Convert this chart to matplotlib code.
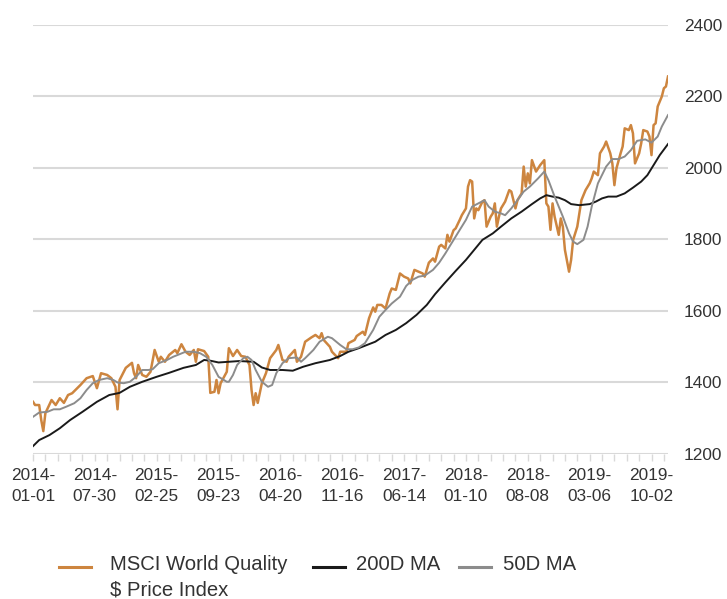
import numpy as np
import matplotlib
matplotlib.use("Agg")
import matplotlib.pyplot as plt
from matplotlib.lines import Line2D

START = "2014-01-01"

price_week = [0, 1, 3, 4, 5, 6, 9, 11, 13, 15, 17, 19, 23, 26, 29, 31, 33, 36, 38, 40,
              41, 42, 45, 48, 49, 50, 51, 53, 55, 57, 59, 61, 62, 64, 66, 69, 70, 72, 74, 76,
              78, 79, 80, 83, 85, 86, 88, 89, 90, 91, 94, 95, 97, 99, 101, 103, 105, 106, 107, 108,
              109, 111, 113, 115, 118, 119, 121, 123, 124, 127, 128, 130, 132, 135, 137, 139, 140, 141, 144, 145,
              148, 149, 152, 153, 156, 157, 160, 161, 163, 165, 166, 167, 169, 171, 173, 174, 176, 177, 178, 180,
              182, 183, 185, 187, 189, 190, 192, 194, 195, 197, 198, 200, 201, 202, 204, 205, 207, 208, 210, 211,
              212, 213, 214, 215, 216, 218, 219, 220, 222, 223, 224, 225, 226, 227, 229, 231, 232, 234, 235, 237,
              238, 239, 240, 241, 242, 244, 246, 248, 249, 250, 251, 252, 253, 255, 256, 257, 258, 260, 261, 262,
              264, 266, 268, 270, 271, 272, 274, 275, 277, 278, 280, 281, 282, 283, 285, 286, 287, 289, 290, 291,
              292, 294, 295, 296, 298, 299, 300, 301, 302, 303, 305, 306, 307, 308]
price_value = [1346, 1337, 1337, 1295, 1264, 1314, 1351, 1337, 1356, 1343, 1365, 1370, 1393, 1412, 1418, 1384, 1426, 1421, 1412, 1388,
               1325, 1407, 1441, 1455, 1426, 1412, 1449, 1421, 1416, 1430, 1491, 1458, 1472, 1458, 1477, 1491, 1482, 1507, 1486, 1477,
               1491, 1458, 1493, 1488, 1472, 1371, 1374, 1407, 1370, 1398, 1430, 1496, 1474, 1491, 1474, 1472, 1449, 1379, 1337, 1370,
               1343, 1398, 1426, 1468, 1491, 1505, 1463, 1458, 1472, 1491, 1458, 1472, 1514, 1526, 1533, 1524, 1538, 1519, 1500, 1486,
               1468, 1486, 1486, 1510, 1519, 1530, 1542, 1533, 1580, 1610, 1598, 1617, 1617, 1607, 1649, 1663, 1659, 1682, 1705, 1696,
               1691, 1677, 1715, 1710, 1705, 1696, 1735, 1747, 1738, 1780, 1785, 1775, 1813, 1794, 1826, 1831, 1855, 1868, 1887, 1948,
               1966, 1962, 1859, 1887, 1882, 1906, 1910, 1836, 1864, 1873, 1901, 1836, 1864, 1887, 1906, 1938, 1934, 1887, 1910, 1929,
               2004, 1948, 1985, 1957, 2022, 1990, 2008, 2022, 1901, 1892, 1827, 1901, 1864, 1813, 1859, 1836, 1771, 1710, 1743, 1799,
               1836, 1910, 1938, 1957, 1971, 1990, 1980, 2041, 2060, 2074, 2041, 2013, 1952, 1999, 2041, 2060, 2111, 2106, 2120, 2097,
               2013, 2041, 2069, 2106, 2102, 2088, 2036, 2120, 2125, 2172, 2200, 2223, 2228, 2256]

ma200_week = [0, 3, 8, 13, 18, 24, 31, 37, 42, 47, 53, 60, 66, 73, 79, 83, 86, 90, 95, 100,
              107, 111, 115, 121, 126, 131, 137, 144, 149, 153, 158, 166, 171, 176, 181, 186, 191, 195, 200, 205,
              210, 214, 218, 223, 227, 232, 237, 242, 246, 249, 252, 255, 258, 261, 265, 270, 273, 276, 279, 283,
              287, 291, 295, 298, 301, 304, 308]
ma200_value = [1222, 1239, 1253, 1272, 1295, 1318, 1346, 1365, 1371, 1388, 1402, 1416, 1427, 1441, 1449, 1463, 1461, 1456, 1458, 1460,
               1458, 1442, 1435, 1435, 1433, 1444, 1454, 1463, 1474, 1486, 1496, 1514, 1533, 1547, 1566, 1589, 1617, 1647, 1680, 1712,
               1743, 1771, 1799, 1817, 1836, 1859, 1878, 1899, 1915, 1924, 1920, 1917, 1910, 1899, 1896, 1899, 1906, 1915, 1920, 1920,
               1929, 1945, 1962, 1980, 2008, 2036, 2067]

ma50_week = [0, 3, 7, 10, 13, 16, 20, 23, 26, 29, 32, 36, 39, 41, 44, 47, 50, 53, 56, 58,
             61, 65, 68, 71, 74, 78, 81, 84, 87, 90, 94, 95, 97, 99, 102, 104, 106, 108, 111, 114,
             116, 118, 121, 124, 128, 130, 132, 136, 139, 143, 145, 149, 152, 155, 158, 161, 165, 168, 171, 174,
             178, 181, 184, 187, 190, 194, 197, 200, 202, 207, 210, 213, 216, 219, 221, 224, 227, 229, 232, 235,
             238, 241, 245, 248, 250, 253, 257, 260, 262, 264, 267, 269, 271, 274, 278, 281, 284, 287, 290, 293,
             297, 300, 303, 305, 308]
ma50_value = [1304, 1316, 1318, 1325, 1325, 1332, 1342, 1356, 1379, 1398, 1407, 1412, 1407, 1400, 1398, 1402, 1416, 1435, 1435, 1437,
              1454, 1463, 1472, 1479, 1486, 1486, 1482, 1472, 1449, 1416, 1402, 1402, 1421, 1449, 1468, 1472, 1463, 1435, 1402, 1388,
              1393, 1426, 1454, 1468, 1470, 1458, 1468, 1491, 1514, 1528, 1524, 1505, 1493, 1493, 1498, 1510, 1547, 1584, 1603, 1621,
              1640, 1670, 1687, 1696, 1699, 1715, 1735, 1761, 1780, 1827, 1855, 1892, 1901, 1910, 1892, 1878, 1873, 1868, 1887, 1910,
              1934, 1948, 1971, 1990, 1966, 1920, 1864, 1817, 1794, 1787, 1799, 1836, 1892, 1957, 2004, 2025, 2025, 2032, 2050, 2076,
              2080, 2071, 2088, 2116, 2148]

tick_labels = ["2014-01-01", "2014-07-30", "2015-02-25", "2015-09-23", "2016-04-20", "2016-11-16",
               "2017-06-14", "2018-01-10", "2018-08-08", "2019-03-06", "2019-10-02"]
y_ticks = [1200, 1400, 1600, 1800, 2000, 2200, 2400]

series_names = ["MSCI World Quality\n$ Price Index", "200D MA", "50D MA"]
colors = ["#CD853F", "#1a1a1a", "#8c8c8c"]

def to_dates(weeks):
    return np.datetime64(START) + np.array(weeks) * np.timedelta64(7, "D")

plt.rcParams["font.family"] = ["Liberation Sans", "DejaVu Sans"]
W, H = 727, 599
fig = plt.figure(figsize=(W / 100, H / 100), dpi=100)
ax = fig.add_axes([33 / W, 1 - 454 / H, 635 / W, 429 / H])

ax.plot(to_dates(price_week), price_value, color=colors[0], lw=1.8, zorder=3)
ax.plot(to_dates(ma200_week), ma200_value, color=colors[1], lw=1.4, zorder=4)
ax.plot(to_dates(ma50_week), ma50_value, color=colors[2], lw=1.4, zorder=5)

start = np.datetime64(START)
end = to_dates([price_week[-1]])[0]
ax.set_xlim(start, end)
ax.set_ylim(1200, 2400)

for s in ax.spines.values():
    s.set_visible(False)

ax.yaxis.tick_right()
ax.set_yticks(y_ticks)
ax.set_yticklabels([str(v) for v in y_ticks])
ax.tick_params(axis="y", length=0, pad=11.5, labelsize=12.4, labelcolor="#333333")
for v in y_ticks:
    ax.axhline(v, color="#d9d9d9", lw=1.5, zorder=1)

major = [np.datetime64(t) for t in tick_labels]
minor = np.arange(start, end, np.timedelta64(42, "D"))
ax.set_xticks(minor, minor=True)
ax.set_xticks(major)
ax.set_xticklabels([t[:5] + "\n" + t[5:] for t in tick_labels], linespacing=1.55)
ax.tick_params(axis="x", which="both", length=5, width=1, color="#d9d9d9",
               pad=5, labelsize=12.4, labelcolor="#333333")
ax.tick_params(axis="x", which="minor", labelbottom=False)

# legend (manual, labels top-aligned like the reference)
handle_x = [(59, 91), (313, 345), (459, 491)]
text_x = [110, 356, 503]
ly = 567
for name, col, (hx0, hx1), tx in zip(series_names, colors, handle_x, text_x):
    fig.add_artist(Line2D([hx0 / W, hx1 / W], [1 - ly / H, 1 - ly / H],
                          transform=fig.transFigure, color=col, lw=2.2))
    fig.text(tx / W, 1 - (ly - 12) / H, name, ha="left", va="top", fontsize=14.6,
             color="#333333", linespacing=1.45)

fig.savefig("out.png", dpi=100)
